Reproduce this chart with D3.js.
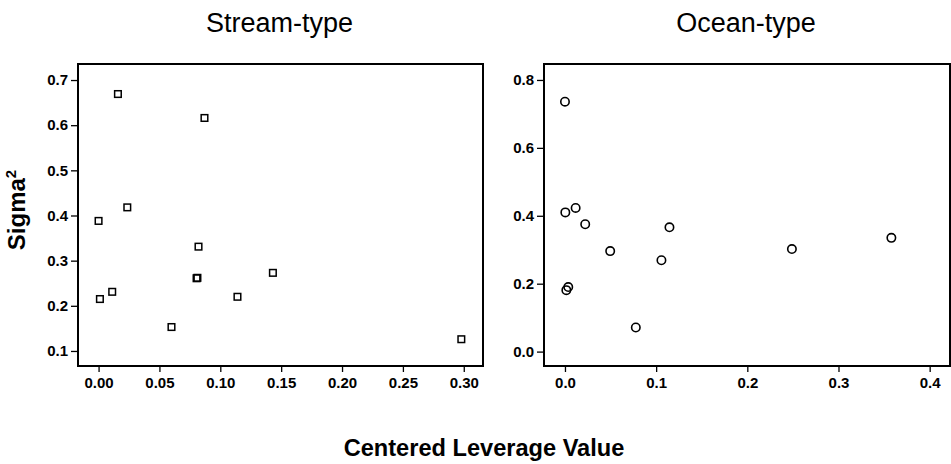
<!DOCTYPE html>
<html>
<head>
<meta charset="utf-8">
<script src="https://cdn.jsdelivr.net/npm/d3@7"></script>
<style>
  html, body { margin: 0; padding: 0; background: #fff; }
  svg { display: block; font-family: Arial, "Liberation Sans", sans-serif; }
</style>
</head>
<body>
<svg id="chart" width="951" height="464"></svg>
<script>
// Stream-type: centered leverage vs. sigma squared
const streamLeverage = [0.0159, 0.0870, 0.0236, 0.0000, 0.0821, 0.0805, 0.0812, 0.1432, 0.0011, 0.0112, 0.1141, 0.0599, 0.2980];
const streamSigma2   = [0.669, 0.616, 0.418, 0.388, 0.331, 0.261, 0.262, 0.273, 0.215, 0.231, 0.220, 0.153, 0.126];

// Ocean-type: centered leverage vs. sigma squared
const oceanLeverage = [0.0000, 0.0004, 0.0117, 0.0222, 0.1146, 0.3580, 0.2489, 0.0496, 0.1058, 0.0036, 0.0015, 0.0777];
const oceanSigma2   = [0.736, 0.410, 0.423, 0.375, 0.366, 0.335, 0.302, 0.296, 0.269, 0.190, 0.181, 0.071];

const streamXTicks = [0, 0.05, 0.10, 0.15, 0.20, 0.25, 0.30];
const streamYTicks = [0.1, 0.2, 0.3, 0.4, 0.5, 0.6, 0.7];
const oceanXTicks = [0, 0.1, 0.2, 0.3, 0.4];
const oceanYTicks = [0.0, 0.2, 0.4, 0.6, 0.8];

const panelTitles = ["Stream-type", "Ocean-type"];
const yLabel = "Sigma";
const xLabel = "Centered Leverage Value";

const svg = d3.select("#chart");

const panels = [
  {
    title: panelTitles[0], xs: streamLeverage, ys: streamSigma2,
    xTicks: streamXTicks, yTicks: streamYTicks, xFmt: d3.format(".2f"), yFmt: d3.format(".1f"),
    xDomain: [-0.0169, 0.3158], yDomain: [0.0667, 0.7355],
    left: 78, right: 483, shape: "square"
  },
  {
    title: panelTitles[1], xs: oceanLeverage, ys: oceanSigma2,
    xTicks: oceanXTicks, yTicks: oceanYTicks, xFmt: d3.format(".1f"), yFmt: d3.format(".1f"),
    xDomain: [-0.023, 0.4223], yDomain: [-0.0424, 0.847],
    left: 544, right: 950, shape: "circle"
  }
];

const plotTop = 64, plotBottom = 366;

panels.forEach(p => {
  const x = d3.scaleLinear().domain(p.xDomain).range([p.left, p.right]);
  const y = d3.scaleLinear().domain(p.yDomain).range([plotBottom, plotTop]);

  const g = svg.append("g");

  // Axes
  const xAxis = g.append("g")
    .attr("transform", `translate(0,${plotBottom})`)
    .call(d3.axisBottom(x).tickValues(p.xTicks).tickFormat(p.xFmt).tickSize(6).tickPadding(5).tickSizeOuter(0));
  const yAxis = g.append("g")
    .attr("transform", `translate(${p.left},0)`)
    .call(d3.axisLeft(y).tickValues(p.yTicks).tickFormat(p.yFmt).tickSize(7).tickPadding(3).tickSizeOuter(0));

  [xAxis, yAxis].forEach(a => {
    a.select(".domain").remove();
    a.selectAll(".tick line").attr("stroke", "#000").attr("stroke-width", 1.3);
    a.selectAll(".tick text")
      .attr("fill", "#000")
      .style("font-family", "Arial, 'Liberation Sans', sans-serif")
      .style("font-size", "15px")
      .style("font-weight", "bold");
  });

  // Frame
  g.append("rect")
    .attr("x", p.left).attr("y", plotTop)
    .attr("width", p.right - p.left).attr("height", plotBottom - plotTop)
    .attr("fill", "none").attr("stroke", "#000").attr("stroke-width", 2);

  // Points
  const pts = p.xs.map((v, i) => ({ x: v, y: p.ys[i] }));
  if (p.shape === "square") {
    g.selectAll("rect.pt").data(pts).enter().append("rect")
      .attr("class", "pt")
      .attr("x", d => x(d.x) - 3.3).attr("y", d => y(d.y) - 3.3)
      .attr("width", 6.6).attr("height", 6.6)
      .attr("fill", "none").attr("stroke", "#000").attr("stroke-width", 1.5);
  } else {
    g.selectAll("circle.pt").data(pts).enter().append("circle")
      .attr("class", "pt")
      .attr("cx", d => x(d.x)).attr("cy", d => y(d.y)).attr("r", 4.2)
      .attr("fill", "none").attr("stroke", "#000").attr("stroke-width", 1.6);
  }

  // Panel title
  svg.append("text")
    .attr("x", (p.left + p.right) / 2 - 1)
    .attr("y", 32)
    .attr("text-anchor", "middle")
    .style("font-size", "27px")
    .attr("fill", "#000")
    .text(p.title);
});

// Shared y-axis label
const yl = svg.append("text")
  .attr("transform", "translate(25,210) rotate(-90)")
  .attr("text-anchor", "middle")
  .style("font-size", "24px")
  .style("font-weight", "bold")
  .attr("fill", "#000");
yl.append("tspan").text(yLabel);
yl.append("tspan").attr("dy", -9).style("font-size", "15px").text("2");

// Shared x-axis label
svg.append("text")
  .attr("x", 484)
  .attr("y", 456)
  .attr("text-anchor", "middle")
  .style("font-size", "23.6px")
  .style("font-weight", "bold")
  .attr("fill", "#000")
  .text(xLabel);
</script>
</body>
</html>
